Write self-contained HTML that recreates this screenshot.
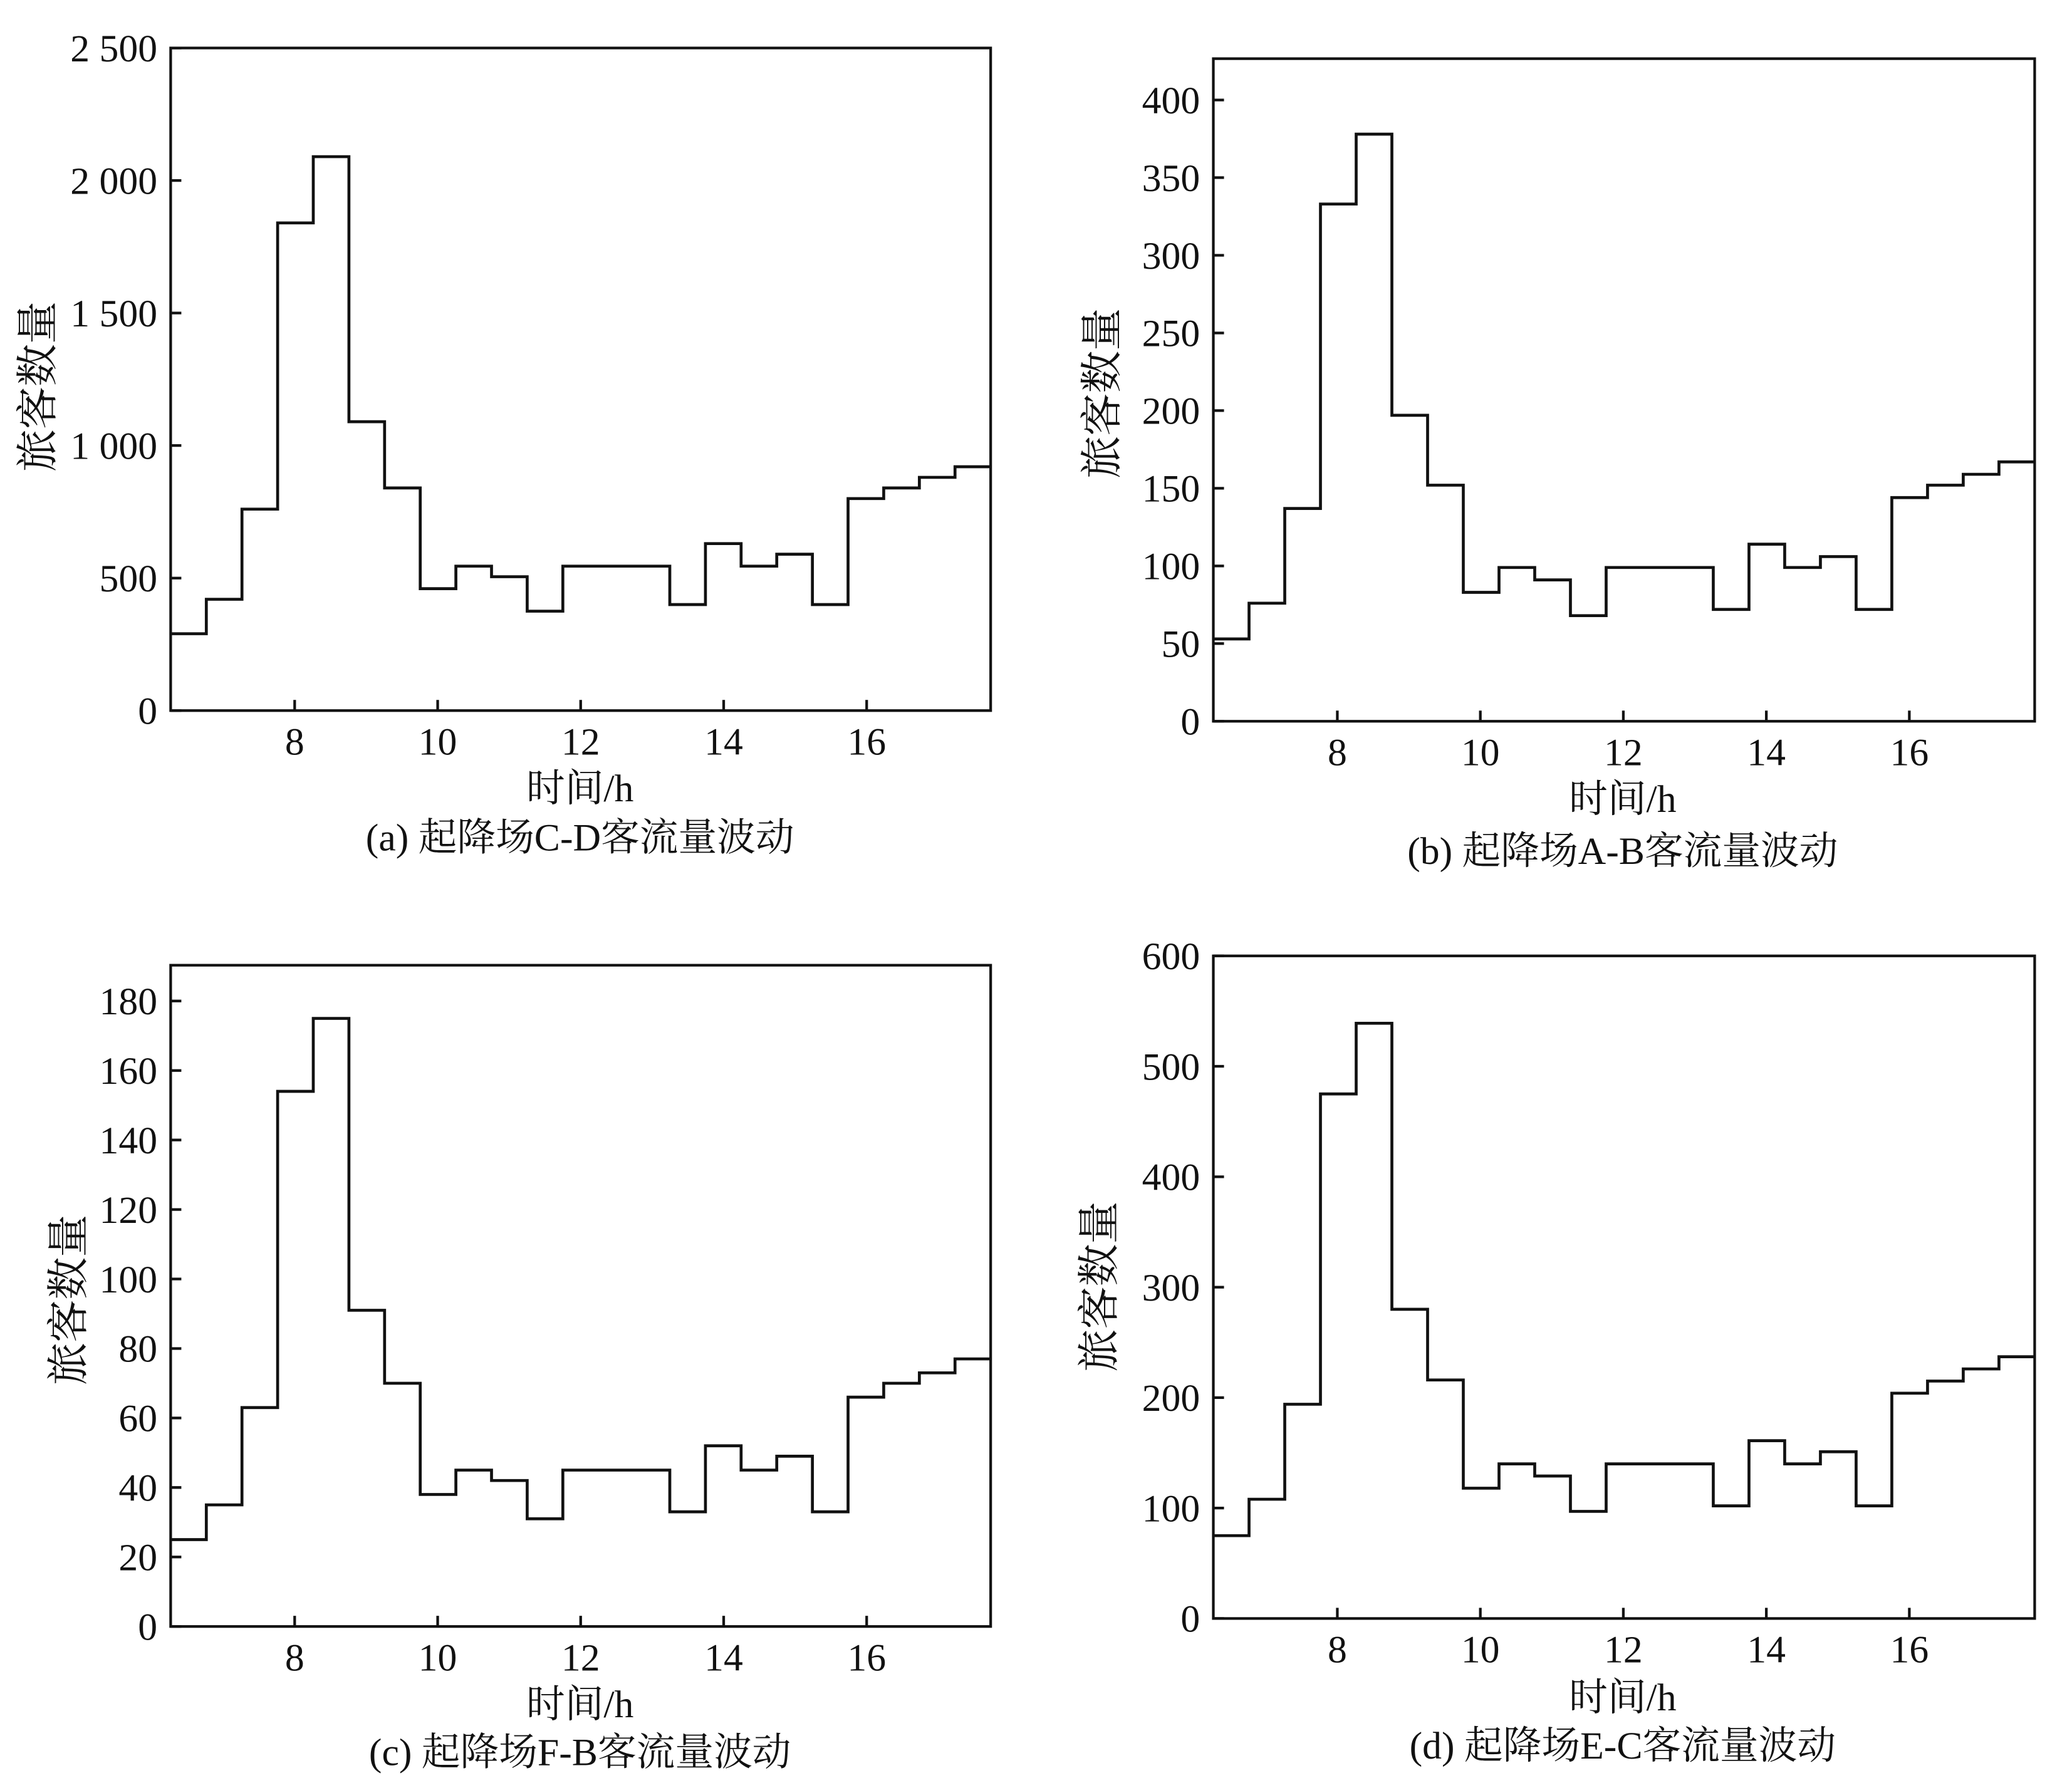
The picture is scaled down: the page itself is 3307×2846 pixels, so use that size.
<!DOCTYPE html>
<html><head><meta charset="utf-8"><style>
html,body{margin:0;padding:0;background:#fff;}
svg{display:block}
text{font-family:"Liberation Serif","Noto Serif CJK SC","Noto Sans CJK SC",serif;fill:#111;}
</style></head><body>
<svg id="s" xmlns="http://www.w3.org/2000/svg" width="3307" height="2846" viewBox="0 0 1554 1337.4" preserveAspectRatio="none"></svg>
<script>
const NS="http://www.w3.org/2000/svg",s=document.getElementById('s');
function el(t,a,txt){const e=document.createElementNS(NS,t);for(const k in a)e.setAttribute(k,a[k]);if(txt!==undefined)e.textContent=txt;s.appendChild(e);return e;}
const panels=[
 {x0:128,x1:743,y0:36,y1:533,max:2500,ticks:[0,500,1000,1500,2000,2500],lab:["0","500","1 000","1 500","2 000","2 500"],
  v:[290,420,760,1840,2090,1090,840,460,545,505,375,545,545,545,400,630,545,590,400,800,840,880,920],
  yt:[32,290],xt:590,cap:627,capt:"(a) 起降场C-D客流量波动"},
 {x0:910,x1:1526,y0:44,y1:541,max:426.6,ticks:[0,50,100,150,200,250,300,350,400],
  v:[53,76,137,333,378,197,152,83,99,91,68,99,99,99,72,114,99,106,72,144,152,159,167],
  yt:[830,295],xt:598,cap:637,capt:"(b) 起降场A-B客流量波动"},
 {x0:128,x1:743,y0:724,y1:1220,max:190.3,ticks:[0,20,40,60,80,100,120,140,160,180],
  v:[25,35,63,154,175,91,70,38,45,42,31,45,45,45,33,52,45,49,33,66,70,73,77],
  yt:[55,975],xt:1277,cap:1313,capt:"(c) 起降场F-B客流量波动"},
 {x0:910,x1:1526,y0:717,y1:1214,max:600,ticks:[0,100,200,300,400,500,600],
  v:[75,108,194,475,539,280,216,118,140,129,97,140,140,140,102,161,140,151,102,204,215,226,237],
  yt:[828,965],xt:1272,cap:1308,capt:"(d) 起降场E-C客流量波动"}
];
for(const p of panels){
 const W=p.x1-p.x0,H=p.y1-p.y0,bw=W/23;
 const Y=v=>p.y1-v/p.max*H;
 el('rect',{x:p.x0,y:p.y0,width:W,height:H,fill:'none',stroke:'#111','stroke-width':2});
 p.ticks.forEach((t,i)=>{const y=Y(t);
  el('line',{x1:p.x0,y1:y,x2:p.x0+8,y2:y,stroke:'#111','stroke-width':2});
  el('text',{x:p.x0-10,y:y+10,'text-anchor':'end','font-size':29},p.lab?p.lab[i]:String(t));});
 [8,10,12,14,16].forEach(h=>{const x=p.x0+93+(h-8)/2*107.25;
  el('line',{x1:x,y1:p.y1,x2:x,y2:p.y1-8,stroke:'#111','stroke-width':2});
  el('text',{x:x,y:p.y1+33,'text-anchor':'middle','font-size':29},String(h));});
 let d='';p.v.forEach((v,i)=>{const xa=p.x0+i*bw,xb=xa+bw,y=Y(v);d+=(i?'L':'M')+xa+' '+y+'L'+xb+' '+y;});
 el('path',{d:d,fill:'none',stroke:'#111','stroke-width':2.2});
 el('text',{x:p.yt[0],y:p.yt[1],'text-anchor':'middle','font-size':32,transform:`rotate(-90 ${p.yt[0]} ${p.yt[1]})`,'dominant-baseline':'middle'},'旅客数量');
 el('text',{x:p.x0+307,y:p.xt+11,'text-anchor':'middle','font-size':29},'时间/h');
 el('text',{x:p.x0+307,y:p.cap+11,'text-anchor':'middle','font-size':29},p.capt);
}
</script>
</body></html>
